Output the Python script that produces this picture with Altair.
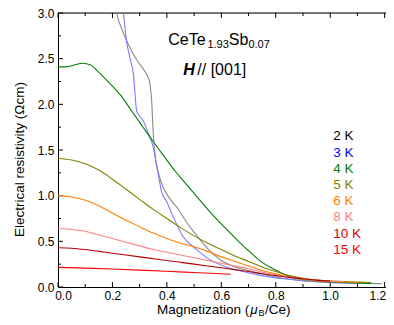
import altair as alt
import pandas as pd

# ---------------- data ----------------
x_2K = [0.20, 0.215, 0.235, 0.255, 0.275, 0.295, 0.315, 0.33, 0.338, 0.344, 0.35, 0.358, 0.368, 0.385,
        0.41, 0.44, 0.47, 0.50, 0.55, 0.60, 0.65, 0.70, 0.75, 0.80, 0.85, 0.90, 0.95, 1.00, 1.05, 1.10, 1.15, 1.19]
y_2K = [3.25, 3.0, 2.82, 2.68, 2.56, 2.46, 2.38, 2.30, 2.22, 2.04, 1.68, 1.40, 1.26, 1.10,
        0.97, 0.86, 0.72, 0.60, 0.42, 0.29, 0.22, 0.18, 0.145, 0.11, 0.085, 0.068, 0.057, 0.05, 0.045, 0.04, 0.04, 0.035]

x_3K = [0.225, 0.24, 0.252, 0.265, 0.277, 0.289, 0.30, 0.313, 0.332, 0.35, 0.368, 0.38, 0.40, 0.423,
        0.46, 0.51, 0.557, 0.618, 0.68, 0.74, 0.80, 0.85, 0.90, 0.95, 1.0, 1.05, 1.1]
y_3K = [3.2, 3.0, 2.69, 2.5, 2.33, 1.93, 1.87, 1.82, 1.68, 1.53, 1.24, 1.05, 0.93, 0.77,
        0.55, 0.41, 0.30, 0.22, 0.17, 0.13, 0.10, 0.085, 0.07, 0.06, 0.05, 0.045, 0.04]

x_4K = [0, 0.03, 0.06, 0.09, 0.12, 0.15, 0.19, 0.23, 0.27, 0.31, 0.35, 0.39, 0.43, 0.47, 0.51, 0.55,
        0.59, 0.63, 0.67, 0.71, 0.75, 0.79, 0.83, 0.87, 0.91, 0.95, 1.0, 1.05, 1.1, 1.15]
y_4K = [2.41, 2.41, 2.43, 2.45, 2.43, 2.35, 2.23, 2.10, 1.93, 1.76, 1.59, 1.43, 1.27, 1.13, 0.99, 0.85,
        0.72, 0.60, 0.48, 0.37, 0.27, 0.20, 0.14, 0.10, 0.08, 0.065, 0.055, 0.05, 0.045, 0.04]

x_5K = [0, 0.05, 0.1, 0.15, 0.2, 0.25, 0.3, 0.35, 0.4, 0.45, 0.5, 0.55, 0.6, 0.65, 0.7, 0.75,
        0.8, 0.85, 0.9, 0.95, 1.0, 1.05, 1.1, 1.15]
y_5K = [1.41, 1.39, 1.35, 1.28, 1.18, 1.07, 0.96, 0.85, 0.75, 0.65, 0.56, 0.48, 0.41, 0.34, 0.28, 0.22,
        0.17, 0.125, 0.095, 0.075, 0.065, 0.06, 0.055, 0.05]

x_6K = [0, 0.05, 0.1, 0.15, 0.2, 0.25, 0.3, 0.35, 0.4, 0.45, 0.5, 0.55, 0.6, 0.65, 0.7, 0.75,
        0.8, 0.85, 0.9, 0.95, 1.0, 1.05, 1.1]
y_6K = [1.0, 0.985, 0.95, 0.89, 0.81, 0.73, 0.66, 0.59, 0.53, 0.48, 0.44, 0.39, 0.33, 0.28, 0.23, 0.18,
        0.145, 0.11, 0.085, 0.07, 0.06, 0.055, 0.05]

x_8K = [0, 0.05, 0.1, 0.15, 0.2, 0.25, 0.3, 0.35, 0.4, 0.45, 0.5, 0.55, 0.6, 0.65, 0.7, 0.75,
        0.8, 0.85, 0.9, 0.95, 1.0, 1.05]
y_8K = [0.64, 0.63, 0.61, 0.57, 0.53, 0.49, 0.45, 0.41, 0.38, 0.35, 0.32, 0.29, 0.26, 0.23, 0.20, 0.165,
        0.135, 0.11, 0.09, 0.075, 0.065, 0.06]

x_10K = [0, 0.05, 0.1, 0.15, 0.2, 0.25, 0.3, 0.35, 0.4, 0.45, 0.5, 0.55, 0.6, 0.65, 0.7, 0.75,
         0.8, 0.85, 0.9, 0.95, 1.0]
y_10K = [0.43, 0.425, 0.41, 0.39, 0.37, 0.35, 0.33, 0.31, 0.29, 0.27, 0.25, 0.23, 0.21, 0.19, 0.17, 0.145,
         0.125, 0.105, 0.09, 0.075, 0.065]

x_15K = [0, 0.1, 0.2, 0.3, 0.4, 0.5, 0.6, 0.635]
y_15K = [0.215, 0.207, 0.197, 0.185, 0.172, 0.158, 0.145, 0.14]

labels = ["2 K", "3 K", "4 K", "5 K", "6 K", "8 K", "10 K", "15 K"]
line_colors = ["#8a8a8a", "#7a7aff", "#008000", "#808000", "#ff8000", "#ff8080", "#b00000", "#ff0000"]
label_colors = ["#000000", "#0000ff", "#008000", "#808000", "#ff8000", "#ff8080", "#e00000", "#ff0000"]

x_major = [0.0, 0.2, 0.4, 0.6, 0.8, 1.0, 1.2]
x_minor = [0.1, 0.3, 0.5, 0.7, 0.9, 1.1]
y_major = [0.0, 0.5, 1.0, 1.5, 2.0, 2.5, 3.0]
y_minor = [0.25, 0.75, 1.25, 1.75, 2.25, 2.75]

# ---------------- build tables ----------------
xs = [x_2K, x_3K, x_4K, x_5K, x_6K, x_8K, x_10K, x_15K]
ys = [y_2K, y_3K, y_4K, y_5K, y_6K, y_8K, y_10K, y_15K]
rows = []
for lab, xx, yy in zip(labels, xs, ys):
    for i, (a, b) in enumerate(zip(xx, yy)):
        rows.append({"T": lab, "M": a, "R": b, "i": i})
df = pd.DataFrame(rows)

W, H = 328, 274
FONT = "Liberation Sans"
xscale = alt.Scale(domain=[0, 1.205], nice=False, zero=False)
yscale = alt.Scale(domain=[0, 3.0], nice=False, zero=False)

lines = alt.Chart(df).mark_line(clip=True, strokeWidth=1.1, interpolate="monotone").encode(
    x=alt.X("M:Q", scale=xscale,
            axis=alt.Axis(values=x_major, format=".1f", ticks=False, title=None, grid=False,
                          labelAlign=alt.expr("datum.value > 1.15 ? 'right' : 'center'"),
                          labelOffset=alt.expr("datum.value < 0.05 ? 5 : (datum.value > 1.15 ? 1 : 0)"),
                          labelFont=FONT, labelFontSize=12, labelColor="black", labelPadding=3,
                          domainColor="black", domainWidth=1)),
    y=alt.Y("R:Q", scale=yscale,
            axis=alt.Axis(values=y_major, format=".1f", ticks=False, grid=False,
                          title="Electrical resistivity (\u03a9cm)",
                          titleFont=FONT, titleFontSize=13.5, titleFontWeight="normal", titleColor="black",
                          titleX=-39, titleY=146, titleAngle=270, titleAlign="center", titleBaseline="middle",
                          labelFont=FONT, labelFontSize=12, labelColor="black", labelPadding=4,
                          domainColor="black", domainWidth=1)),
    color=alt.Color("T:N", scale=alt.Scale(domain=labels, range=line_colors), legend=None),
    detail="T:N",
    order="i:Q",
)

tick_len_major, tick_len_minor = 5, 3

def xticks(vals, length):
    d = pd.DataFrame({"v": vals})
    bot = alt.Chart(d).mark_rule(color="black", strokeWidth=1).encode(
        x=alt.X("v:Q", scale=xscale), y=alt.value(H - length), y2=alt.value(H))
    top = alt.Chart(d).mark_rule(color="black", strokeWidth=1).encode(
        x=alt.X("v:Q", scale=xscale), y=alt.value(0), y2=alt.value(length))
    return [bot, top]

def yticks(vals, length):
    d = pd.DataFrame({"v": vals})
    return [alt.Chart(d).mark_rule(color="black", strokeWidth=1).encode(
        y=alt.Y("v:Q", scale=yscale), x=alt.value(0), x2=alt.value(length))]

tick_layers = (xticks(x_major, tick_len_major) + xticks(x_minor, tick_len_minor)
               + yticks(y_major, tick_len_major) + yticks(y_minor, tick_len_minor))

top_line = alt.Chart(pd.DataFrame({"a": [0]})).mark_rule(color="black", strokeWidth=1).encode(
    x=alt.value(0), x2=alt.value(W), y=alt.value(0))

def txt(s, x, y, size, color="black", style="normal", weight="normal", baseline="alphabetic", align="left"):
    return alt.Chart(pd.DataFrame({"t": [s]})).mark_text(
        font=FONT, fontSize=size, color=color, fontStyle=style, fontWeight=weight,
        baseline=baseline, align=align).encode(text="t:N", x=alt.value(x), y=alt.value(y))

annot = [
    txt("CeTe", 110.3, 31.7, 16),
    txt("1.93", 149.4, 34.8, 11),
    txt("Sb", 170.8, 31.7, 16),
    txt("0.07", 190.4, 34.8, 11),
    txt("H", 125.3, 61.7, 16, style="italic", weight="bold"),
    txt("// [001]", 139.3, 61.7, 16),
    txt("Magnetization (", 99.0, 300.5, 13.5),
    txt("\u03bc", 192.3, 300.5, 13.5, style="italic"),
    txt("B", 200.6, 303.0, 9),
    txt("/Ce)", 207.0, 300.5, 13.5),
]
for k, (lab, col) in enumerate(zip(labels, label_colors)):
    annot.append(txt(lab, 275.3, 123.4 + k * 16.2, 13.5, color=col, baseline="middle"))

chart = alt.layer(*tick_layers, top_line, lines, *annot).properties(
    width=W, height=H,
    autosize=alt.AutoSizeParams(type="none"),
    padding={"left": 50, "top": 5, "right": 0, "bottom": 30},
).configure_view(stroke=None).configure(background="white")

chart.save("out.html", embed_options={"renderer": "svg", "actions": False})
